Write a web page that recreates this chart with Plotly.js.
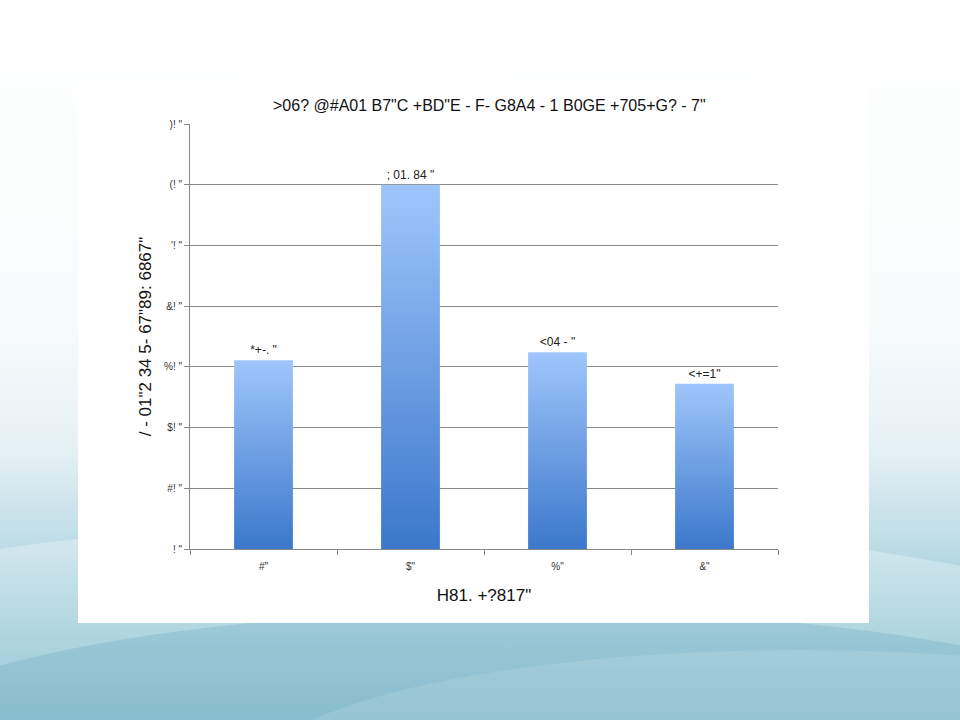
<!DOCTYPE html>
<html>
<head>
<meta charset="utf-8">
<script src="https://cdn.plot.ly/plotly-3.0.1.min.js"></script>
<style>
  html, body { margin: 0; padding: 0; width: 960px; height: 720px; overflow: hidden; }
  body {
    position: relative;
    background: linear-gradient(to bottom, #ffffff 0%, #f8fbfc 45%, #e6f1f5 62%, #bcdce5 76%, #8ec4d3 88%, #6cafc3 100%);
  }
  .wave { position: absolute; border-radius: 50%; pointer-events: none; }
  #chart { position: absolute; left: 78px; top: 85px; width: 791px; height: 538px; }
</style>
</head>
<body>
<div class="wave" style="left:-420px; top:520px; width:1700px; height:420px; background: rgba(255,255,255,0.30);"></div>
<div class="wave" style="left:-150px; top:610px; width:1350px; height:300px; background: rgba(80,150,180,0.22);"></div>
<div class="wave" style="left:250px; top:650px; width:1100px; height:260px; background: rgba(255,255,255,0.12);"></div>
<div id="chart"></div>
<script>
const categories = ['#"', '$"', '%"', '&"'];
const values = [31.1, 60.0, 32.4, 27.2];
const valueLabels = ['*+-. "', '; 01. 84 "', '<04 - "', '<+=1"'];
const tickValues = [0, 10, 20, 30, 40, 50, 60, 70];
const tickLabels = ['! "', '#! "', '$! "', '%! "', '&! "', '\'! "', '(! "', ')! "'];
const chartTitle = '>06? @#A01 B7"C +BD"E - F- G8A4 - 1 B0GE +705+G? - 7"';
const yTitle = '/ - 01"2 34 5- 67"89: 6867"';
const xTitle = 'H81. +?817"';

const font = 'Liberation Sans, Arial, sans-serif';

const trace = {
  type: 'bar',
  x: categories,
  y: values,
  text: valueLabels,
  texttemplate: '%{text}',
  textposition: 'outside',
  textfont: { family: font, size: 12, color: '#222' },
  cliponaxis: false,
  marker: { color: '#6ea2e6', line: { width: 0 } },
  hoverinfo: 'none'
};

const layout = {
  width: 791, height: 538,
  margin: { l: 112, r: 91, t: 39, b: 74 },
  paper_bgcolor: '#ffffff',
  plot_bgcolor: '#ffffff',
  bargap: 0.6,
  showlegend: false,
  font: { family: font, color: '#222' },
  title: { text: chartTitle, font: { family: font, size: 16, color: '#111' }, x: 0.52, xanchor: 'center', y: 0.963, yanchor: 'middle' },
  xaxis: {
    type: 'category',
    tickson: 'boundaries',
    ticks: 'outside', ticklen: 5, tickcolor: '#888',
    ticklabelstandoff: 8,
    showline: true, linecolor: '#888', linewidth: 1,
    showgrid: false,
    tickfont: { family: font, size: 10, color: '#333' },
    title: { text: xTitle, font: { family: font, size: 17, color: '#111' }, standoff: 18 }
  },
  yaxis: {
    range: [0, 70],
    tickvals: tickValues,
    ticktext: tickLabels,
    ticks: 'outside', ticklen: 5, tickcolor: '#888',
    showline: true, linecolor: '#888', linewidth: 1,
    showgrid: true, gridcolor: '#8a8a8a', gridwidth: 1,
    zeroline: false,
    tickfont: { family: font, size: 10, color: '#333' },
    title: { text: yTitle, font: { family: font, size: 17, color: '#111' }, standoff: 8 }
  }
};

Plotly.newPlot('chart', [trace], layout, { staticPlot: true, displayModeBar: false }).then(function (gd) {
  const svg = gd.querySelector('svg.main-svg');
  const ns = 'http://www.w3.org/2000/svg';
  let defs = svg.querySelector('defs');
  if (!defs) { defs = document.createElementNS(ns, 'defs'); svg.insertBefore(defs, svg.firstChild); }
  const grad = document.createElementNS(ns, 'linearGradient');
  grad.setAttribute('id', 'barGrad');
  grad.setAttribute('x1', '0'); grad.setAttribute('y1', '0');
  grad.setAttribute('x2', '0'); grad.setAttribute('y2', '1');
  [['0%', '#9fc6fb'], ['100%', '#3b78cb']].forEach(function (s) {
    const st = document.createElementNS(ns, 'stop');
    st.setAttribute('offset', s[0]);
    st.setAttribute('stop-color', s[1]);
    grad.appendChild(st);
  });
  defs.appendChild(grad);
  gd.querySelectorAll('.bars .point path').forEach(function (p) {
    p.style.fill = 'url(#barGrad)';
  });
});
</script>
</body>
</html>
